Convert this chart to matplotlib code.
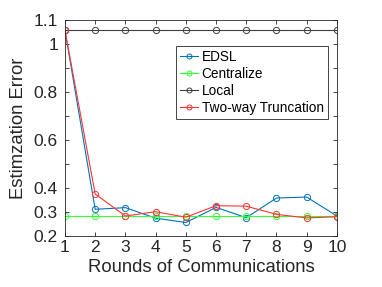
import numpy as np
import matplotlib.pyplot as plt

plt.rcParams['font.family'] = ['Liberation Sans', 'DejaVu Sans']

rounds = np.arange(1, 11)
edsl = [1.058, 0.311, 0.318, 0.274, 0.256, 0.319, 0.276, 0.358, 0.362, 0.283]
centralize = [0.283] * 10
local = [1.058] * 10
twoway = [1.058, 0.375, 0.283, 0.301, 0.278, 0.326, 0.324, 0.290, 0.275, 0.280]

fig = plt.figure(figsize=(3.82, 2.87), dpi=100)
ax = fig.add_axes([0.170, 0.178, 0.712, 0.752])

mk = dict(marker='o', markersize=4.5, markerfacecolor='none', linewidth=0.8, markeredgewidth=0.7)
ax.plot(rounds, edsl, color=(0, 0.447, 0.741), label='EDSL', **mk)
ax.plot(rounds, centralize, color=(0.2, 1.0, 0.2), label='Centralize', **mk)
ax.plot(rounds, local, color=(0.25, 0.25, 0.25), label='Local', **mk)
ax.plot(rounds, twoway, color=(1.0, 0.2, 0.2), label='Two-way Truncation', **mk)

ax.set_xlim(1, 10)
ax.set_ylim(0.2, 1.1)
ax.set_xticks(rounds)
yt = [0.2, 0.3, 0.4, 0.5, 0.6, 0.7, 0.8, 0.9, 1.0, 1.1]
ylab = ['0.2', '0.3', '0.4', '', '0.6', '', '0.8', '', '1', '1.1']
ax.set_yticks(yt)
ax.set_yticklabels(ylab)
ax.tick_params(direction='in', length=3, width=0.6, labelsize=12.5, colors='#262626',
               top=True, right=True)
ax.tick_params(axis='y', pad=5)
ax.tick_params(axis='x', pad=3)
for s in ax.spines.values():
    s.set_linewidth(0.6)
    s.set_color('#262626')

ax.set_xlabel('Rounds of Communications', fontsize=13.3, color='#262626', labelpad=3)
ax.set_ylabel('Estimzation Error', fontsize=13.3, color='#262626', labelpad=5)

leg = ax.legend(loc='upper right', bbox_to_anchor=(0.966, 0.88), fontsize=9.8,
                fancybox=False, framealpha=1, edgecolor='#262626',
                handlelength=1.3, handletextpad=0.3, borderpad=0.3, labelspacing=0.22,
                borderaxespad=0, markerscale=0.8)
leg.get_frame().set_linewidth(0.6)

fig.savefig('out.png', dpi=100)
